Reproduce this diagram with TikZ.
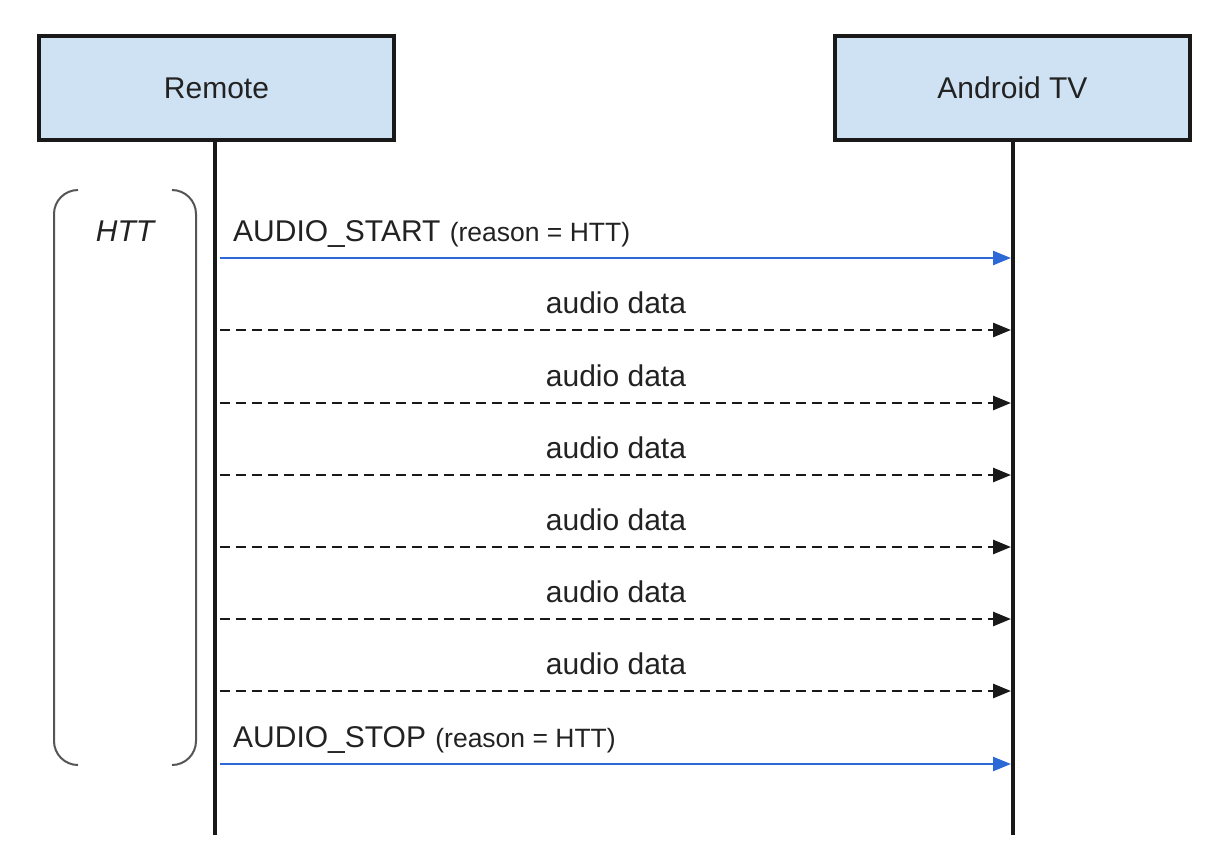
\documentclass[tikz,border=0pt]{standalone}
\usepackage{fontspec}
\setmainfont{Liberation Sans}
\usetikzlibrary{arrows.meta}
\definecolor{boxfill}{RGB}{207,226,243}
\definecolor{msgblue}{RGB}{44,104,214}
\definecolor{brk}{RGB}{85,85,85}
\definecolor{txt}{RGB}{34,34,34}
\begin{document}
\begin{tikzpicture}[x=1pt,y=-1pt,
  actor/.style={draw=black!90,line width=3.5pt,fill=boxfill,minimum width=355pt,minimum height=104pt,inner sep=0pt,text=txt,font=\fontsize{30}{35}\selectfont},
  lifeline/.style={draw=black!90,line width=4pt},
  sync/.style={draw=msgblue,line width=2.5pt,-{Triangle[length=18pt,width=14pt]}},
  datamsg/.style={draw=black!90,line width=2.7pt,dash pattern=on 10pt off 6pt,-{Triangle[length=18pt,width=14pt]}},
  msglabel/.style={anchor=base west,inner sep=0pt,text=txt,font=\fontsize{30}{35}\selectfont},
  datalabel/.style={anchor=base,inner sep=0pt,text=txt,font=\fontsize{30}{35}\selectfont},
  small/.style={},
  bracket/.style={draw=brk,line width=2pt,rounded corners=24pt}]
\useasboundingbox (0,0) rectangle (1229,849);
\node[actor] (remote) at (216.5,88) {Remote};
\node[actor] (tv) at (1012.5,88) {Android TV};
\coordinate (rend) at (215,835);
\coordinate (tend) at (1013,835);
\draw[lifeline] (remote.south -| rend) -- (rend);
\draw[lifeline] (tv.south -| tend) -- (tend);
% bracket
\draw[bracket] (78,190) -- (54,190) -- (54,765) -- (78,765);
\draw[bracket] (172,190) -- (196,190) -- (196,765) -- (172,765);
\node[anchor=base,inner sep=0pt,text=txt,font=\fontsize{30}{35}\selectfont\itshape] (htt) at (125,241) {HTT};
% messages
\coordinate (a1) at (220,258); \coordinate (b1) at (1011,258);
\draw[sync] (a1) -- (b1);
\node[msglabel] (l1) at (233,241) {AUDIO\_START\hspace{1pt} {\fontsize{26.5}{31}\selectfont(reason = HTT)}};
\foreach \y [count=\i] in {330,403,475,547,619,691}{
  \coordinate (da\i) at (220,\y);
  \coordinate (db\i) at (1011,\y);
  \draw[datamsg] (da\i) -- (db\i);
  \node[datalabel] (dl\i) at (616,\y-17) {audio data};
}
\coordinate (a2) at (220,764); \coordinate (b2) at (1011,764);
\draw[sync] (a2) -- (b2);
\node[msglabel] (l2) at (233,747) {AUDIO\_STOP\hspace{1pt} {\fontsize{26.5}{31}\selectfont(reason = HTT)}};
\end{tikzpicture}
\end{document}
